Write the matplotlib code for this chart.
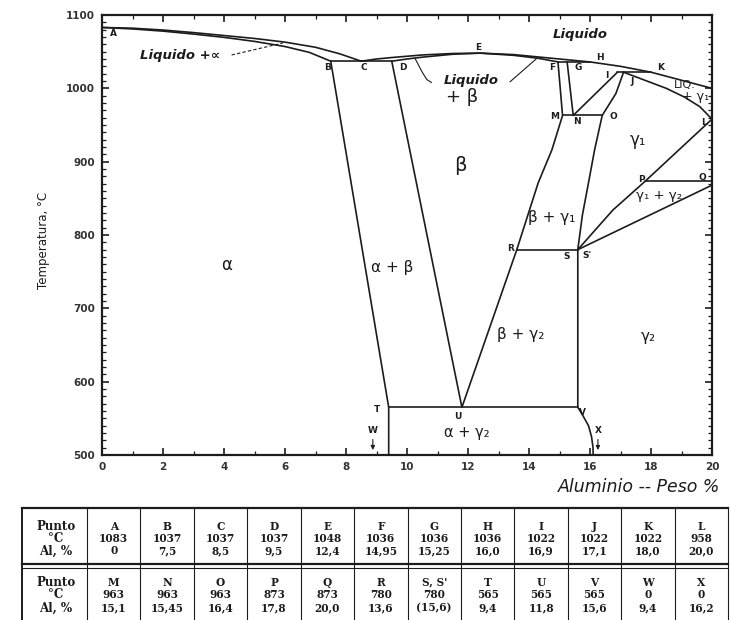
import matplotlib
matplotlib.use("Agg")
import matplotlib.pyplot as plt
from matplotlib.ticker import MultipleLocator

# invariant points of the Cu-Al diagram: Punto / °C / Al, %
names_top = ["A", "B", "C", "D", "E", "F", "G", "H", "I", "J", "K", "L"]
temp_top = [1083, 1037, 1037, 1037, 1048, 1036, 1036, 1036, 1022, 1022, 1022, 958]
al_top = ["0", "7,5", "8,5", "9,5", "12,4", "14,95", "15,25", "16,0", "16,9", "17,1", "18,0", "20,0"]
names_bot = ["M", "N", "O", "P", "Q", "R", "S, S'", "T", "U", "V", "W", "X"]
temp_bot = [963, 963, 963, 873, 873, 780, 780, 565, 565, 565, 0, 0]
al_bot = ["15,1", "15,45", "16,4", "17,8", "20,0", "13,6", "(15,6)", "9,4", "11,8", "15,6", "9,4", "16,2"]

# intermediate points read along the curved boundaries (Al %, °C)
liq_alpha = [(1, 1082), (2, 1079.5), (3, 1076), (4, 1072), (5, 1068), (6, 1063), (7, 1056), (7.8, 1047)]
sol_alpha = [(1, 1081), (2, 1078), (3, 1074), (4, 1069.5), (5, 1064), (6, 1057), (6.8, 1049)]
liq_beta_l = [(9.0, 1040), (9.5, 1042), (10.5, 1045.5), (11.5, 1047.5)]
liq_beta_r = [(13.5, 1046), (14.5, 1042), (15.25, 1039)]
liq_gamma = [(17.0, 1030)]
liq_end = [(19.0, 1011), (20.0, 1000)]
sol_beta_l = [(10.0, 1040), (10.5, 1042.5), (11.5, 1046.5)]
sol_beta_r = [(13.5, 1045), (14.3, 1041)]
beta_right = [(14.75, 916), (14.3, 871)]
gam1_top = [(16.85, 993)]
gam1_low = [(16.15, 916), (15.95, 871), (15.75, 827)]
gam1_sol = [(17.8, 1011), (18.5, 1000), (19.1, 988), (19.6, 975)]
p_to_s = [(16.75, 834)]
q_side = (20.0, 868)
v_to_x = [(15.75, 555), (15.95, 540), (16.05, 525), (16.1, 510)]


def num(s):
    return float(s.strip("()").replace(",", "."))


pt = {}
for n, t, a in zip(names_top + names_bot, temp_top + temp_bot, al_top + al_bot):
    pt[n] = (num(a), t)
pt["S"] = pt["S'"] = pt["S, S'"]

ink = "#1c1c1c"

fig = plt.figure(figsize=(7.3, 6.2), dpi=100)
ax = fig.add_axes([102 / 730, 1 - 455 / 620, 610 / 730, 440 / 620])


def path(*seq):
    xs, ys = [], []
    for s in seq:
        if isinstance(s, str):
            s = [pt[s]]
        elif isinstance(s, tuple):
            s = [s]
        for x, y in s:
            xs.append(x)
            ys.append(y)
    ax.plot(xs, ys, color=ink, lw=1.2, solid_capstyle="round")


# liquidus and solidus
path("A", liq_alpha, "C")
path("A", sol_alpha, "B")
path("C", liq_beta_l, "E", liq_beta_r, "H", liq_gamma, "K", liq_end)
path("D", sol_beta_l, "E", sol_beta_r, "F")
path("J", gam1_sol, "L")
# horizontals
path("B", "D")
path("F", "H")
path("M", "O")
path("I", "K")
path("P", "Q")
path("R", "S")
path("T", "V")
# remaining boundaries
path("B", "T", "W")
path("D", "U", "R")
path("F", "M", beta_right, "R")
path("G", "N", "I")
path("J", gam1_top, "O", gam1_low, "S'")
path("L", "P", p_to_s, "S'")
path(q_side, "S", "V", v_to_x, "X")

ax.set_xlim(0, 20)
ax.set_ylim(500, 1100)
ax.xaxis.set_major_locator(MultipleLocator(2))
ax.xaxis.set_minor_locator(MultipleLocator(1))
ax.yaxis.set_major_locator(MultipleLocator(100))
ax.yaxis.set_minor_locator(MultipleLocator(10))
ax.tick_params(which="both", direction="in", top=True, right=True, color=ink)
ax.tick_params(which="major", length=5, width=1.2, labelsize=7.5, pad=5)
ax.tick_params(which="minor", length=3, width=0.9)
for lab in ax.get_xticklabels() + ax.get_yticklabels():
    lab.set_fontweight("bold")
    lab.set_color("#333333")
for sp in ax.spines.values():
    sp.set_linewidth(1.6)
    sp.set_color(ink)

# point letters
letter_pos = {
    "A": (0.36, 1075), "B": (7.4, 1029), "C": (8.6, 1029), "D": (9.87, 1029),
    "E": (12.33, 1056), "F": (14.75, 1029), "G": (15.6, 1028), "H": (16.33, 1042),
    "I": (16.56, 1018), "J": (17.38, 1010), "K": (18.3, 1028), "L": (19.75, 954),
    "M": (14.85, 961), "N": (15.57, 955), "O": (16.75, 962), "P": (17.7, 876),
    "Q": (19.67, 879), "R": (13.38, 782), "S": (15.25, 771), "S'": (15.9, 772),
    "T": (9.0, 562), "U": (11.67, 553), "V": (15.74, 558), "W": (8.88, 533), "X": (16.26, 533),
}
for n, (x, y) in letter_pos.items():
    ax.text(x, y, n, fontsize=6.5, fontweight="bold", color=ink, ha="center", va="center")
for n in ["W", "X"]:
    x = letter_pos[n][0]
    ax.annotate("", xy=(x, 503), xytext=(x, 525),
                arrowprops=dict(arrowstyle="-|>", color=ink, lw=0.8, mutation_scale=6))

# phase fields
phases = [
    ("α", 4.1, 759, 12), ("α + β", 9.5, 755, 11), ("β", 11.74, 895, 14),
    ("+ β", 11.8, 988, 13), ("β + γ₁", 14.75, 824, 11), ("γ₁", 17.57, 930, 12),
    ("γ₁ + γ₂", 18.25, 854, 9.5), ("β + γ₂", 13.74, 664, 11), ("γ₂", 17.9, 661, 11),
    ("α + γ₂", 11.97, 530, 10.5), ("LIQ.", 19.1, 1004, 8), ("+ γ₁", 19.45, 989, 9),
]
for s, x, y, fs in phases:
    ax.text(x, y, s, fontsize=fs, color=ink, ha="center", va="center")

ax.text(2.56, 1045, "Liquido +∝", fontsize=9.5, fontweight="bold", style="italic",
        color=ink, ha="center", va="center")
ax.text(15.67, 1073, "Liquido", fontsize=9.5, fontweight="bold", style="italic",
        color=ink, ha="center", va="center")
ax.text(12.1, 1011, "Liquido", fontsize=9.5, fontweight="bold", style="italic",
        color=ink, ha="center", va="center")
ax.plot([4.25, 5.93], [1045.5, 1061.8], color=ink, lw=0.8, ls=(0, (3, 2)))
ax.plot([10.26, 10.5, 10.65, 10.8], [1041, 1022, 1012, 1008], color=ink, lw=0.8)
ax.plot([13.38, 14.26], [1009, 1041], color=ink, lw=0.8)

fig.text(43 / 730, 1 - 240 / 620, "Temperatura, °C", rotation=90, fontsize=8.5,
         color=ink, ha="center", va="center")
fig.text(720 / 730, 1 - 487 / 620, "Aluminio -- Peso %", fontsize=12.5, style="italic",
         color=ink, ha="right", va="center")

# data table below the diagram, laid out in pixel units
tab = fig.add_axes([0, 0, 1, 1])
tab.set_xlim(0, 730)
tab.set_ylim(620, 0)
tab.axis("off")

left, head_r, right = 22, 87, 728
col_w = (right - head_r) / len(names_top)
top, mid, bottom = 508, 564, 622
tab.plot([left, right], [top, top], color=ink, lw=1.6)
tab.plot([left, right], [mid, mid], color=ink, lw=1.6)
tab.plot([left, right], [mid + 3.5, mid + 3.5], color=ink, lw=0.8)
tab.plot([left, left], [top, bottom], color=ink, lw=1.4)
for i in range(len(names_top) + 1):
    x = head_r + i * col_w
    tab.plot([x, x], [top, bottom], color=ink, lw=0.8)

tfont = dict(family="DejaVu Serif", fontsize=7.6, fontweight="semibold",
             color=ink, ha="center", va="center")
hfont = dict(tfont, fontsize=8.6)
for rows, ys in [((names_top, temp_top, al_top), (527, 539, 551)),
                 ((names_bot, temp_bot, al_bot), (582, 595, 608))]:
    for lab, y in zip(["Punto", "°C", "Al, %"], ys):
        tab.text(56, y, lab, **hfont)
    for i, (n, t, a) in enumerate(zip(*rows)):
        x = head_r + (i + 0.5) * col_w
        tab.text(x, ys[0], n, **tfont)
        tab.text(x, ys[1], str(t), **tfont)
        tab.text(x, ys[2], a, **tfont)

fig.savefig("out.png", dpi=100)
